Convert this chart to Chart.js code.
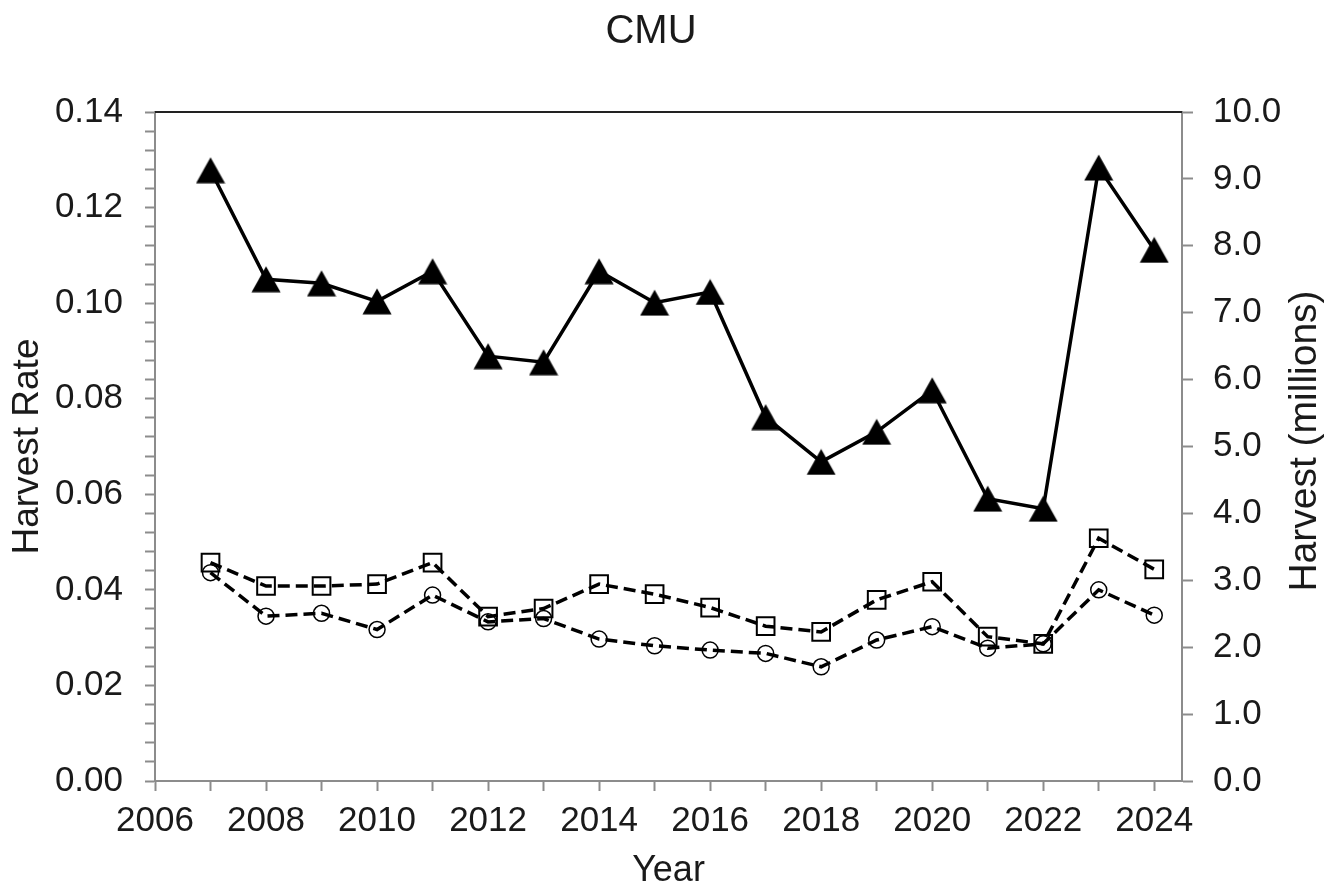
<!DOCTYPE html>
<html>
<head>
<meta charset="utf-8">
<title>CMU</title>
<script src="https://cdn.jsdelivr.net/npm/chart.js@4.4.1/dist/chart.umd.min.js"></script>
<style>
  html, body { margin: 0; padding: 0; background: #ffffff; }
  #wrap { width: 1336px; height: 890px; position: relative; }
</style>
</head>
<body>
<div id="wrap"><canvas id="cmuChart"></canvas></div>
<script>
// --- data ---
const years = [2007, 2008, 2009, 2010, 2011, 2012, 2013, 2014, 2015,
               2016, 2017, 2018, 2019, 2020, 2021, 2022, 2023, 2024];

// solid line, triangles, right axis (millions)
const harvestMillions = [9.13, 7.50, 7.44, 7.17, 7.62, 6.35, 6.26, 7.62, 7.15,
                         7.31, 5.44, 4.77, 5.22, 5.84, 4.22, 4.07, 9.17, 7.94];

// dashed line, open squares, left axis
const rateSquares = [0.0457, 0.0408, 0.0408, 0.0412, 0.0457, 0.0344, 0.0361, 0.0412, 0.0391,
                     0.0363, 0.0324, 0.0312, 0.0379, 0.0417, 0.0302, 0.0287, 0.0508, 0.0443];

// dashed line, open circles, left axis
const rateCircles = [0.0436, 0.0345, 0.0351, 0.0317, 0.0389, 0.0333, 0.0340, 0.0297, 0.0283,
                     0.0274, 0.0267, 0.0239, 0.0295, 0.0323, 0.0278, 0.0287, 0.0400, 0.0347];

// tick labels
const yearTicks = [2006, 2008, 2010, 2012, 2014, 2016, 2018, 2020, 2022, 2024];
const rateTicks = [0.00, 0.02, 0.04, 0.06, 0.08, 0.10, 0.12, 0.14];
const harvestTicks = [0, 1, 2, 3, 4, 5, 6, 7, 8, 9, 10];

const FONT = "'Liberation Sans', Arial, sans-serif";
const TEXT = '#1a1a1a';
const AXIS = '#8c8c8c';

const toPoints = (vals) => years.map((yr, i) => ({ x: yr, y: vals[i] }));

// Excel-style triangle marker, centred on its bounding box
function triangleMarker() {
    const c = document.createElement('canvas');
    c.width = 30;
    c.height = 27;
    const g = c.getContext('2d');
    g.fillStyle = '#000';
    g.beginPath();
    g.moveTo(15, 0.5);
    g.lineTo(29.5, 26.5);
    g.lineTo(0.5, 26.5);
    g.closePath();
    g.fill();
    return c;
}

// top frame line + right axis title (reads bottom to top like the left one)
const frameAndRightTitle = {
    id: 'frameAndRightTitle',
    afterDraw(chart) {
        const { ctx, chartArea } = chart;
        ctx.save();
        ctx.strokeStyle = '#222';
        ctx.lineWidth = 2;
        ctx.beginPath();
        ctx.moveTo(chartArea.left, chartArea.top);
        ctx.lineTo(chartArea.right, chartArea.top);
        ctx.stroke();

        ctx.translate(1305, 441);
        ctx.rotate(-Math.PI / 2);
        ctx.font = `39px ${FONT}`;
        ctx.fillStyle = TEXT;
        ctx.textAlign = 'center';
        ctx.textBaseline = 'middle';
        ctx.fillText('Harvest (millions)', 0, 0);
        ctx.restore();
    }
};

const tickFont = { family: FONT, size: 35 };

new Chart(document.getElementById('cmuChart'), {
    type: 'line',
    data: {
        datasets: [
            {
                label: 'Harvest (millions)',
                data: toPoints(harvestMillions),
                yAxisID: 'y2',
                borderColor: '#000',
                borderWidth: 3.5,
                pointStyle: triangleMarker(),
                tension: 0
            },
            {
                label: 'Harvest Rate (squares)',
                data: toPoints(rateSquares),
                yAxisID: 'y',
                borderColor: '#000',
                borderWidth: 3.5,
                borderDash: [12, 6],
                pointStyle: 'rect',
                pointRadius: 12.5,
                pointBorderWidth: 2,
                pointBorderColor: '#000',
                pointBackgroundColor: 'rgba(0,0,0,0)',
                tension: 0
            },
            {
                label: 'Harvest Rate (circles)',
                data: toPoints(rateCircles),
                yAxisID: 'y',
                borderColor: '#000',
                borderWidth: 3.5,
                borderDash: [12, 6],
                pointStyle: 'circle',
                pointRadius: 8,
                pointBorderWidth: 1.5,
                pointBorderColor: '#000',
                pointBackgroundColor: 'rgba(0,0,0,0)',
                tension: 0
            }
        ]
    },
    options: {
        responsive: true,
        maintainAspectRatio: false,
        animation: false,
        events: [],
        layout: { padding: { top: 0, right: 34, bottom: 0, left: 0 } },
        plugins: {
            legend: { display: false },
            tooltip: { enabled: false },
            title: {
                display: true,
                text: 'CMU',
                color: TEXT,
                font: { family: FONT, size: 40, weight: 'normal' },
                padding: { top: 8, bottom: 56 }
            }
        },
        scales: {
            x: {
                type: 'linear',
                position: 'bottom',
                min: 2006,
                max: 2024.5,
                afterBuildTicks: (scale) => {
                    const t = [];
                    for (let v = 2006; v <= 2024; v++) t.push({ value: v });
                    scale.ticks = t;
                },
                afterFit: (scale) => { scale.height = 109; },
                ticks: {
                    autoSkip: false,
                    maxRotation: 0,
                    padding: 9,
                    color: TEXT,
                    font: tickFont,
                    callback: (v) => yearTicks.includes(v) ? String(v) : ''
                },
                grid: {
                    drawOnChartArea: false,
                    drawTicks: true,
                    tickLength: 10,
                    tickWidth: 2,
                    tickColor: AXIS
                },
                border: { color: AXIS, width: 2 },
                title: {
                    display: true,
                    text: 'Year',
                    color: TEXT,
                    font: { family: FONT, size: 36, lineHeight: 1.05 },
                    padding: { top: 0, bottom: 0 }
                }
            },
            y: {
                type: 'linear',
                position: 'left',
                min: 0,
                max: 0.14,
                afterBuildTicks: (scale) => {
                    const t = [];
                    for (let i = 0; i <= 35; i++) t.push({ value: i * 0.004 });
                    scale.ticks = t;
                },
                afterFit: (scale) => { scale.width = 155; },
                ticks: {
                    autoSkip: false,
                    padding: 22,
                    color: TEXT,
                    font: tickFont,
                    callback: (v) => {
                        const hit = rateTicks.find(r => Math.abs(r - v) < 1e-9);
                        return hit === undefined ? '' : hit.toFixed(2);
                    }
                },
                grid: {
                    drawOnChartArea: false,
                    drawTicks: true,
                    tickLength: 10,
                    tickWidth: 2,
                    tickColor: AXIS
                },
                border: { color: AXIS, width: 2 },
                title: {
                    display: true,
                    text: 'Harvest Rate',
                    color: TEXT,
                    font: { family: FONT, size: 37 },
                    padding: { top: 6, bottom: 0 }
                }
            },
            y2: {
                type: 'linear',
                position: 'right',
                min: 0,
                max: 10,
                afterBuildTicks: (scale) => {
                    scale.ticks = harvestTicks.map(v => ({ value: v }));
                },
                afterFit: (scale) => { scale.width = 120; },
                ticks: {
                    autoSkip: false,
                    padding: 20,
                    color: TEXT,
                    font: tickFont,
                    callback: (v) => Number(v).toFixed(1)
                },
                grid: {
                    drawOnChartArea: false,
                    drawTicks: true,
                    tickLength: 11,
                    tickWidth: 2,
                    tickColor: AXIS
                },
                border: { color: AXIS, width: 2 }
            }
        }
    },
    plugins: [frameAndRightTitle]
});
</script>
</body>
</html>
